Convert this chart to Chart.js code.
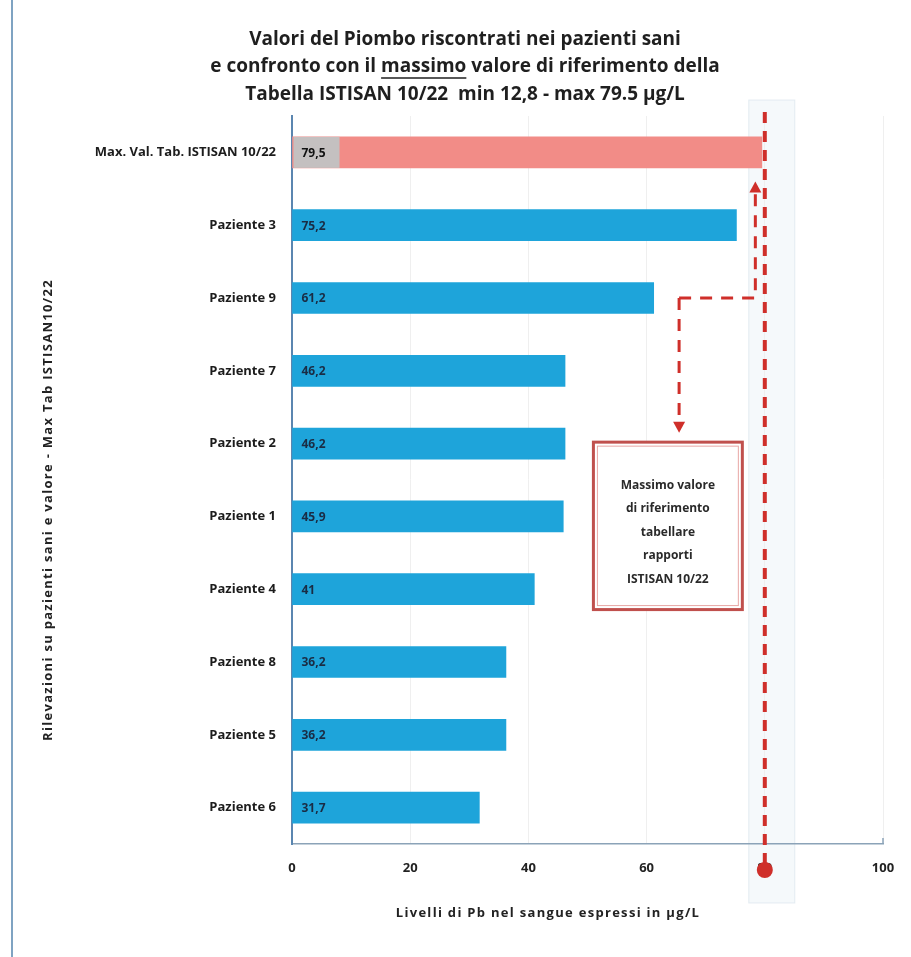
<!DOCTYPE html>
<html>
<head>
<meta charset="utf-8">
<script src="https://cdn.jsdelivr.net/npm/chart.js@4/dist/chart.umd.min.js"></script>
<style>
  html, body { margin: 0; padding: 0; background: #fff; }
  #wrap { width: 911px; height: 957px; position: relative; }
</style>
</head>
<body>
<div id="wrap"><canvas id="chart" width="911" height="957"></canvas></div>
<script>
// Categories, top to bottom
const categories = [
  'Max. Val. Tab. ISTISAN 10/22',
  'Paziente 3', 'Paziente 9', 'Paziente 7', 'Paziente 2', 'Paziente 1',
  'Paziente 4', 'Paziente 8', 'Paziente 5', 'Paziente 6'
];
// Lead levels (µg/L)
const values = [79.5, 75.2, 61.2, 46.2, 46.2, 45.9, 41, 36.2, 36.2, 31.7];
const valueLabels = ['79,5', '75,2', '61,2', '46,2', '46,2', '45,9', '41', '36,2', '36,2', '31,7'];
const xTicks = [0, 20, 40, 60, 80, 100];
const titleLines = [
  'Valori del Piombo riscontrati nei pazienti sani',
  'e confronto con il massimo valore di riferimento della',
  'Tabella ISTISAN 10/22  min 12,8 - max 79.5 µg/L'
];
const underlinedWord = 'massimo';
const noteLines = ['Massimo valore', 'di riferimento', 'tabellare', 'rapporti', 'ISTISAN 10/22'];
const referenceLine = 80;
const xTitle = 'Livelli di Pb nel sangue espressi in µg/L';
const yTitle = 'Rilevazioni su pazienti sani e valore - Max Tab ISTISAN10/22';

const FONT = '"Open Sans", Lato, sans-serif';
const BLUE = '#1ea4da';
const SALMON = '#f28c87';
const RED = '#cf2f2a';

function dashedLine(ctx, pts, width, dash) {
  ctx.save();
  ctx.strokeStyle = RED;
  ctx.lineWidth = width;
  ctx.setLineDash(dash);
  ctx.beginPath();
  ctx.moveTo(pts[0][0], pts[0][1]);
  for (let i = 1; i < pts.length; i++) ctx.lineTo(pts[i][0], pts[i][1]);
  ctx.stroke();
  ctx.restore();
}
function arrowHead(ctx, x, y, dir) {
  // dir: -1 pointing up, +1 pointing down
  ctx.save();
  ctx.fillStyle = RED;
  ctx.beginPath();
  ctx.moveTo(x, y);
  ctx.lineTo(x - 6, y - dir * 11);
  ctx.lineTo(x + 6, y - dir * 11);
  ctx.closePath();
  ctx.fill();
  ctx.restore();
}

const decorations = {
  id: 'decorations',
  beforeDraw(chart) {
    const { ctx } = chart;
    const xs = chart.scales.x;
    ctx.save();
    ctx.fillStyle = '#fff';
    ctx.fillRect(0, 0, chart.width, chart.height);
    // left frame line
    ctx.strokeStyle = '#7fa3c2';
    ctx.lineWidth = 2;
    ctx.beginPath();
    ctx.moveTo(12, 0); ctx.lineTo(12, chart.height);
    ctx.stroke();
    // faint band around the reference line
    const rx = xs.getPixelForValue(referenceLine);
    ctx.fillStyle = 'rgba(220,232,240,0.28)';
    ctx.fillRect(rx - 16, 100, 46, 803);
    ctx.strokeStyle = 'rgba(200,216,228,0.45)';
    ctx.lineWidth = 1;
    ctx.strokeRect(rx - 16, 100, 46, 803);
    ctx.restore();
  },
  afterDatasetsDraw(chart) {
    const { ctx } = chart;
    const meta = chart.getDatasetMeta(0);
    const xs = chart.scales.x, ys = chart.scales.y;
    ctx.save();
    meta.data.forEach((bar, i) => {
      const h = bar.height;
      ctx.font = 'bold 12px ' + FONT;
      const tw = ctx.measureText(valueLabels[i]).width;
      if (i === 0) {
        ctx.fillStyle = '#c4c0c0';
        ctx.fillRect(bar.base + 1, bar.y - h / 2, tw + 22, h);
      }
      ctx.fillStyle = i === 0 ? '#111' : '#1a2c44';
      ctx.textAlign = 'left';
      ctx.textBaseline = 'middle';
      ctx.fillText(valueLabels[i], bar.base + 9, bar.y + 1);
    });
    ctx.restore();

    // small end mark on the value axis
    ctx.save();
    ctx.strokeStyle = '#8ba3b8';
    ctx.lineWidth = 1.5;
    ctx.beginPath();
    const xr = chart.chartArea.right;
    ctx.moveTo(xr, chart.chartArea.bottom); ctx.lineTo(xr, chart.chartArea.bottom - 6);
    ctx.stroke();
    ctx.restore();
  },
  afterDraw(chart) {
    const { ctx } = chart;
    const xs = chart.scales.x, ys = chart.scales.y;

    // reference line at the table maximum, ending on a marker over its tick
    const rx = xs.getPixelForValue(referenceLine);
    dashedLine(ctx, [[rx, chart.chartArea.top - 4], [rx, chart.chartArea.bottom + 26]], 4, [11, 8]);
    ctx.save();
    ctx.fillStyle = RED;
    ctx.beginPath();
    ctx.arc(rx, chart.chartArea.bottom + 26, 8, 0, Math.PI * 2);
    ctx.fill();
    ctx.restore();

    // connectors from Paziente 9 to the max bar and to the note
    const yP9 = ys.getPixelForValue(2);
    const xA = xs.getPixelForValue(65.5), xB = xs.getPixelForValue(78.4);
    const yUp = ys.getPixelForValue(0.4), yDown = ys.getPixelForValue(3.85);
    dashedLine(ctx, [[xA, yP9], [xB, yP9], [xB, yUp + 10]], 3, [12, 9]);
    arrowHead(ctx, xB, yUp, -1);
    dashedLine(ctx, [[xA, yP9], [xA, yDown - 10]], 3, [12, 9]);
    arrowHead(ctx, xA, yDown, 1);

    // note box
    const bx0 = xs.getPixelForValue(51), bx1 = xs.getPixelForValue(76.2);
    const by0 = ys.getPixelForValue(3.98), by1 = ys.getPixelForValue(6.28);
    ctx.save();
    ctx.fillStyle = '#fff';
    ctx.fillRect(bx0, by0, bx1 - bx0, by1 - by0);
    ctx.strokeStyle = '#c0504d';
    ctx.lineWidth = 3;
    ctx.strokeRect(bx0, by0, bx1 - bx0, by1 - by0);
    ctx.strokeStyle = '#e8a6a4';
    ctx.lineWidth = 1;
    ctx.strokeRect(bx0 + 4, by0 + 4, bx1 - bx0 - 8, by1 - by0 - 8);
    ctx.fillStyle = '#2a2a2a';
    ctx.font = 'bold 12px ' + FONT;
    ctx.textAlign = 'center';
    ctx.textBaseline = 'middle';
    const cx = (bx0 + bx1) / 2;
    noteLines.forEach((t, i) => ctx.fillText(t, cx, by0 + 43 + i * 23.5));
    ctx.restore();

    ctx.save();
    // title with underlined word
    ctx.fillStyle = '#1f1f1f';
    ctx.strokeStyle = '#1f1f1f';
    ctx.font = 'bold 19px ' + FONT;
    ctx.textBaseline = 'middle';
    ctx.textAlign = 'left';
    const tcx = 465, tys = [40, 67, 95];
    titleLines.forEach((line, i) => {
      const w = ctx.measureText(line).width;
      const x0 = tcx - w / 2;
      ctx.fillText(line, x0, tys[i]);
      const k = line.indexOf(underlinedWord);
      if (k >= 0) {
        const pre = ctx.measureText(line.slice(0, k)).width;
        const ww = ctx.measureText(underlinedWord).width;
        ctx.lineWidth = 1.5;
        ctx.beginPath();
        ctx.moveTo(x0 + pre, tys[i] + 11);
        ctx.lineTo(x0 + pre + ww, tys[i] + 11);
        ctx.stroke();
      }
    });
    // axis titles
    ctx.font = 'bold 13px ' + FONT;
    ctx.letterSpacing = '1.3px';
    ctx.textAlign = 'center';
    ctx.fillStyle = '#222';
    ctx.fillText(xTitle, 548, 913);
    ctx.translate(48, 510);
    ctx.rotate(-Math.PI / 2);
    ctx.fillText(yTitle, 0, 0);
    ctx.restore();
  }
};

new Chart(document.getElementById('chart'), {
  type: 'bar',
  data: {
    labels: categories,
    datasets: [{
      data: values,
      backgroundColor: values.map((v, i) => i === 0 ? SALMON : BLUE),
      borderWidth: 0,
      barThickness: 31
    }]
  },
  options: {
    indexAxis: 'y',
    responsive: false,
    animation: false,
    devicePixelRatio: 1,
    layout: { padding: { top: 116, right: 28, left: 0, bottom: 0 } },
    plugins: { legend: { display: false }, tooltip: { enabled: false }, title: { display: false } },
    scales: {
      x: {
        min: 0, max: 100,
        afterBuildTicks: s => { s.ticks = xTicks.map(v => ({ value: v })); },
        afterFit: s => { s.height = 113; },
        ticks: { color: '#222', font: { family: FONT, size: 13, weight: 'bold' }, padding: 16 },
        grid: { color: '#efefef', drawTicks: false },
        border: { color: '#8ba3b8', width: 1.5 }
      },
      y: {
        afterFit: s => { s.width = 292; },
        ticks: { color: '#1c1c1c', font: { family: FONT, size: 13, weight: 'bold' }, padding: 16 },
        grid: { display: false, drawTicks: false },
        border: { color: '#5b86b0', width: 2 }
      }
    }
  },
  plugins: [decorations]
});
</script>
</body>
</html>
